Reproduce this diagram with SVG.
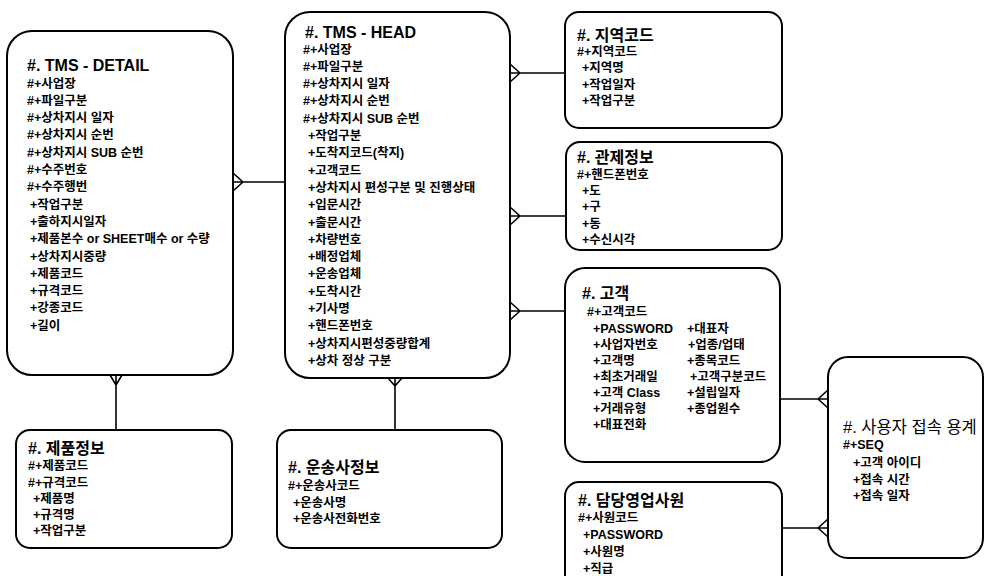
<svg xmlns="http://www.w3.org/2000/svg" width="984" height="576" viewBox="0 0 984 576">
<style>
.box{fill:#fff;stroke:#000;stroke-width:2}
.t{font-family:"Liberation Sans","Noto Sans CJK KR",sans-serif;font-size:16px;font-weight:bold;fill:#000}
.tn{font-family:"Liberation Sans","Noto Sans CJK KR",sans-serif;font-size:16.5px;font-weight:normal;fill:#000}
.a{font-family:"Liberation Sans","Noto Sans CJK KR",sans-serif;font-size:12.5px;font-weight:bold;fill:#000}
.c{fill:none;stroke:#000;stroke-width:1.6}
</style>
<rect width="984" height="576" fill="#fff"/>
<g id="connectors">
<path class="c" d="M233,182H285M243,182L233,173M243,182L233,191"/>
<path class="c" d="M116,375V430M116,385L110,375M116,385L122,375"/>
<path class="c" d="M395,378V430M395,386L388,378M395,386L402,378"/>
<path class="c" d="M510,73H565M520,73L510,64M520,73L510,82"/>
<path class="c" d="M510,216H566M520,216L510,207M520,216L510,225"/>
<path class="c" d="M510,311H565M520,311L510,302M520,311L510,320"/>
<path class="c" d="M780,399H828M818,399L828,390M818,399L828,408"/>
<path class="c" d="M782,528H828M818,528L828,519M818,528L828,537"/>
</g>
<g id="tms-detail">
<rect class="box" x="7" y="31" width="226" height="344" rx="25"/>
<text class="t" x="27" y="71">#. TMS - DETAIL</text>
<text class="a" x="27" y="87.5">#+사업장</text>
<text class="a" x="27" y="104.8">#+파일구분</text>
<text class="a" x="27" y="122.1">#+상차지시 일자</text>
<text class="a" x="27" y="139.4">#+상차지시 순번</text>
<text class="a" x="27" y="156.7">#+상차지시 SUB 순번</text>
<text class="a" x="27" y="174">#+수주번호</text>
<text class="a" x="27" y="191.3">#+수주행번</text>
<text class="a" x="30" y="208.6">+작업구분</text>
<text class="a" x="30" y="225.9">+출하지시일자</text>
<text class="a" x="30" y="243.2">+제품본수 or SHEET매수 or 수량</text>
<text class="a" x="30" y="260.5">+상차지시중량</text>
<text class="a" x="30" y="277.8">+제품코드</text>
<text class="a" x="30" y="295.1">+규격코드</text>
<text class="a" x="30" y="312.4">+강종코드</text>
<text class="a" x="30" y="329.7">+길이</text>
</g>
<g id="tms-head">
<rect class="box" x="285" y="12" width="225" height="366" rx="25"/>
<text class="t" x="305" y="37.5">#. TMS - HEAD</text>
<text class="a" x="303" y="53.5">#+사업장</text>
<text class="a" x="303" y="70.8">#+파일구분</text>
<text class="a" x="303" y="88.1">#+상차지시 일자</text>
<text class="a" x="303" y="105.4">#+상차지시 순번</text>
<text class="a" x="303" y="122.7">#+상차지시 SUB 순번</text>
<text class="a" x="308" y="140">+작업구분</text>
<text class="a" x="308" y="157.3">+도착지코드(착지)</text>
<text class="a" x="308" y="174.6">+고객코드</text>
<text class="a" x="308" y="191.9">+상차지시 편성구분 및 진행상태</text>
<text class="a" x="308" y="209.2">+입문시간</text>
<text class="a" x="308" y="226.5">+출문시간</text>
<text class="a" x="308" y="243.8">+차량번호</text>
<text class="a" x="308" y="261.1">+배정업체</text>
<text class="a" x="308" y="278.4">+운송업체</text>
<text class="a" x="308" y="295.7">+도착시간</text>
<text class="a" x="308" y="313">+기사명</text>
<text class="a" x="308" y="330.3">+핸드폰번호</text>
<text class="a" x="308" y="347.6">+상차지시편성중량합계</text>
<text class="a" x="308" y="364.9">+상차 정상 구분</text>
</g>
<g id="region-code">
<rect class="box" x="565" y="12" width="217" height="116" rx="14"/>
<text class="t" x="577" y="41">#. 지역코드</text>
<text class="a" x="577" y="55.5">#+지역코드</text>
<text class="a" x="582" y="72">+지역명</text>
<text class="a" x="582" y="88.5">+작업일자</text>
<text class="a" x="582" y="105">+작업구분</text>
</g>
<g id="control-info">
<rect class="box" x="566" y="142" width="216" height="108" rx="14"/>
<text class="t" x="577" y="163">#. 관제정보</text>
<text class="a" x="577" y="178.5">#+핸드폰번호</text>
<text class="a" x="582" y="194.5">+도</text>
<text class="a" x="582" y="211">+구</text>
<text class="a" x="582" y="227.5">+동</text>
<text class="a" x="582" y="243.5">+수신시각</text>
</g>
<g id="customer">
<rect class="box" x="565" y="268" width="215" height="194" rx="20"/>
<text class="t" x="582" y="299">#. 고객</text>
<text class="a" x="587" y="315.5">#+고객코드</text>
<text class="a" x="593" y="332.5">+PASSWORD</text>
<text class="a" x="593" y="348.5">+사업자번호</text>
<text class="a" x="593" y="364.5">+고객명</text>
<text class="a" x="593" y="380.5">+최초거래일</text>
<text class="a" x="593" y="396.5">+고객 Class</text>
<text class="a" x="593" y="412.5">+거래유형</text>
<text class="a" x="593" y="428.5">+대표전화</text>
<text class="a" x="687" y="332.5">+대표자</text>
<text class="a" x="688" y="348.5">+업종/업태</text>
<text class="a" x="687" y="364.5">+종목코드</text>
<text class="a" x="690" y="380.5">+고객구분코드</text>
<text class="a" x="687" y="396.5">+설립일자</text>
<text class="a" x="687" y="412.5">+종업원수</text>
</g>
<g id="sales-staff">
<rect class="box" x="565" y="482" width="217" height="120" rx="14"/>
<text class="t" x="578" y="506">#. 담당영업사원</text>
<text class="a" x="578" y="521.5">#+사원코드</text>
<text class="a" x="583" y="538.5">+PASSWORD</text>
<text class="a" x="583" y="555.5">+사원명</text>
<text class="a" x="583" y="572.5">+직급</text>
</g>
<g id="user-access">
<rect class="box" x="828" y="357" width="155" height="201" rx="20"/>
<text class="tn" x="843" y="433">#. 사용자 접속 용계</text>
<text class="a" x="843" y="448.5">#+SEQ</text>
<text class="a" x="853" y="466.5">+고객 아이디</text>
<text class="a" x="853" y="483.5">+접속 시간</text>
<text class="a" x="853" y="499.5">+접속 일자</text>
</g>
<g id="product-info">
<rect class="box" x="16" y="430" width="216" height="118" rx="14"/>
<text class="t" x="28" y="454">#. 제품정보</text>
<text class="a" x="28" y="469.5">#+제품코드</text>
<text class="a" x="28" y="486.5">#+규격코드</text>
<text class="a" x="33" y="502.5">+제품명</text>
<text class="a" x="33" y="518.5">+규격명</text>
<text class="a" x="33" y="535">+작업구분</text>
</g>
<g id="carrier-info">
<rect class="box" x="277" y="430" width="225" height="118" rx="14"/>
<text class="t" x="288" y="473">#. 운송사정보</text>
<text class="a" x="288" y="489.5">#+운송사코드</text>
<text class="a" x="293" y="506.5">+운송사명</text>
<text class="a" x="293" y="522.5">+운송사전화번호</text>
</g>
</svg>
